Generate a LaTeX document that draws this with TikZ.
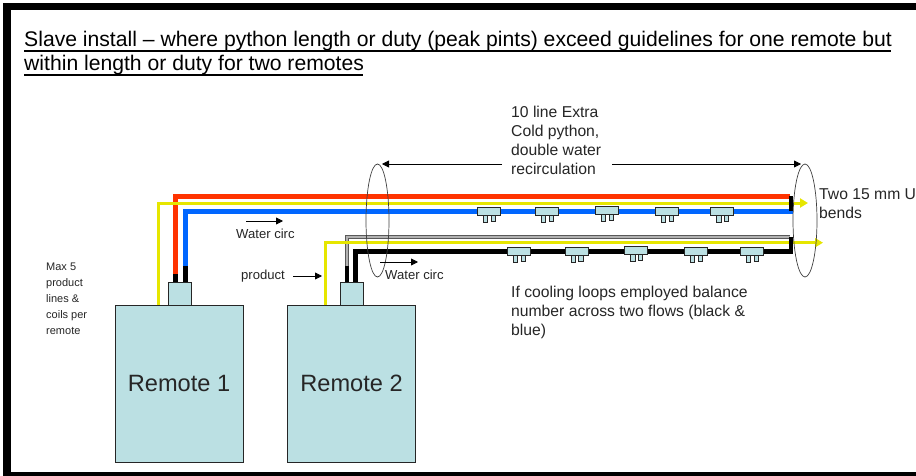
\documentclass[tikz,border=0pt]{standalone}
\usepackage{fontspec}
\setmainfont{Liberation Sans}
\usetikzlibrary{arrows.meta}
\definecolor{boxfill}{HTML}{BBE0E3}
\definecolor{pipered}{HTML}{FF3300}
\definecolor{pipeblue}{HTML}{0066FF}
\definecolor{pipeyellow}{HTML}{E6E600}
\definecolor{ink}{HTML}{262626}
\tikzset{
  remotebox/.style={draw=black!85,line width=0.9pt,fill=boxfill,minimum width=128pt,minimum height=157pt,inner sep=0pt,font=\fontsize{23.6}{28}\selectfont,text=ink},
  topbox/.style={draw=black!85,line width=0.9pt,fill=boxfill,minimum width=23pt,minimum height=23pt,inner sep=0pt},
  redpipe/.style={draw=pipered,line width=5pt},
  bluepipe/.style={draw=pipeblue,line width=4.5pt},
  yellowpipe/.style={draw=pipeyellow,line width=3pt},
  blackpipe/.style={draw=black,line width=4.5pt},
  greypipe/.style={draw=black!65,line width=4.6pt},
  greycore/.style={draw=white!70!black,line width=1.8pt},
  ubendbar/.style={draw=black,line width=4.5pt},
  yellowhead/.style={-{Triangle[length=8pt,width=9pt,fill=pipeyellow]}},
  thinarrow/.style={draw=black,line width=0.8pt,-{Triangle[length=7pt,width=7pt]}},
  loopring/.style={draw=black!75,line width=0.7pt},
  lab/.style={inner sep=0pt,anchor=west,text=ink,font=\fontsize{15.7}{19}\selectfont,align=left},
  smalllab/.style={inner sep=0pt,anchor=west,text=ink,font=\fontsize{13.1}{16}\selectfont,align=left},
  notelab/.style={inner sep=0pt,anchor=west,text=ink,font=\fontsize{11}{16}\selectfont,align=left},
  titleline/.style={inner sep=0pt,anchor=base west,text=black,font=\fontsize{21.15}{24}\selectfont},
  titlerule/.style={draw=black,line width=1.5pt},
  valvepart/.style={draw=black!85,line width=0.8pt,fill=boxfill}
}
\newcommand{\valve}[2]{%
  \path[valvepart] (#1-11.5,#2-4.3) rectangle (#1+11.5,#2+4.3);
  \path[valvepart] (#1-5.6,#2+4.3) rectangle (#1-1.2,#2+11);
  \path[valvepart] (#1+2.2,#2+4.3) rectangle (#1+6.4,#2+10);
}
\begin{document}
\begin{tikzpicture}[x=1pt,y=-1pt]
\useasboundingbox (0,0) rectangle (916,476);
% frame
\fill[black] (3,3) rectangle (916,476);
\fill[white] (11,10) rectangle (916,472);
% title
\node[titleline] (t1) at (24,47) {Slave install – where python length or duty (peak pints) exceed guidelines for one remote but};
\node[titleline] (t2) at (24,71) {within length or duty for two remotes};
\draw[titlerule] (t1.base west)++(0,4) -- ++(867,0);
\draw[titlerule] (t2.base west)++(0,4) -- ++(339,0);
% remotes
\node[remotebox] (r1) at (179,383.5) {Remote 1};
\node[remotebox] (r2) at (351.5,383.5) {Remote 2};
\node[topbox] (s1) at (179.5,293.5) {};
\node[topbox] (s2) at (351.5,293.5) {};
% named route points
\coordinate (yA) at (158.5,305);
\coordinate (redL) at (175.5,196);
\coordinate (yelL) at (158.5,203);
\coordinate (bluL) at (185.5,211.3);
\coordinate (redR) at (790,196);
\coordinate (yelR) at (808,203);
\coordinate (bluR) at (793,211.3);
\coordinate (yB) at (325,305);
\coordinate (yelL2) at (325,242.7);
\coordinate (yelR2) at (823,242.7);
\coordinate (gryL) at (347,236.8);
\coordinate (gryR) at (790,236.8);
\coordinate (blkL) at (355.5,251.7);
\coordinate (blkR) at (791,251.7);
% upper pipes
\draw[redpipe] (s1.north -| redL) -- (redL) -- (redR);
\draw[yellowpipe,yellowhead] (yA) -- (yelL) -- (yelR);
\draw[bluepipe] (s1.north -| bluL) -- (bluL) -- (bluR);
\draw[blackpipe] (s1.north -| redL) -- ++(0,-8);
\draw[blackpipe] (s1.north -| bluL) -- ++(0,-16);
\draw[ubendbar] (791,196) -- (791,211.3);
% lower pipes
\draw[greypipe] (s2.north -| gryL) -- (gryL) -- (gryR);
\draw[greycore] (s2.north -| gryL) -- (gryL) -- (gryR);
\draw[yellowpipe,yellowhead] (yB) -- (yelL2) -- (yelR2);
\draw[blackpipe] (s2.north -| blkL) -- (blkL) -- (blkR) -- (gryR -| blkR);
\draw[blackpipe] (s2.north -| gryL) -- ++(0,-16);
% valves
\valve{489}{211.3}\valve{547}{211.3}\valve{607}{210.5}\valve{666.8}{211.3}\valve{722.3}{211.3}
\valve{519}{251.5}\valve{576.5}{251.5}\valve{636.3}{250.5}\valve{696}{251.5}\valve{752}{251.5}
% loops
\draw[loopring] (377.5,220.5) ellipse [x radius=11.5,y radius=56.5];
\draw[loopring] (805,220.5) ellipse [x radius=12,y radius=56.5];
% arrows and labels
\coordinate (dimL) at (382,164);
\coordinate (dimR) at (801,164);
\node[lab] (ten) at (511,140.5) {10 line Extra\\Cold python,\\double water\\recirculation};
\draw[thinarrow] (502,164) -- (dimL);
\draw[thinarrow] (612,164) -- (dimR);
\node[lab] (ubend) at (819,203.5) {Two 15 mm U\\bends};
\node[lab] (cool) at (511,312) {If cooling loops employed balance\\number across two flows (black \&\\blue)};
\node[notelab] (maxf) at (46,299) {Max 5\\product\\lines \&\\coils per\\remote};
\node[smalllab] (wc1) at (236,234) {Water circ};
\draw[thinarrow] (246,221) -- (283,221);
\node[smalllab] (prod) at (241,276) {product};
\draw[thinarrow] (293,276) -- (322,276);
\node[smalllab] (wc2) at (385,275) {Water circ};
\draw[thinarrow] (380,262) -- (418,262);
\end{tikzpicture}
\end{document}
